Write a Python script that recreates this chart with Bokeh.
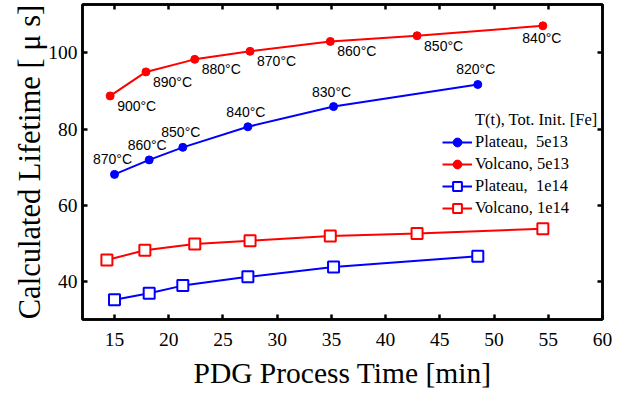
from bokeh.plotting import figure
from bokeh.models import Range1d, FixedTicker, LinearAxis, Legend, LegendItem
from bokeh.core.properties import value
from bokeh.embed import file_html
from bokeh.resources import INLINE

# ---- data ----
plateau_5e13_t = [15.0, 18.2, 21.3, 27.3, 35.2, 48.5]
plateau_5e13_tau = [68.1, 71.9, 75.2, 80.6, 85.9, 91.7]
plateau_5e13_temp = ["870°C", "860°C", "850°C", "840°C", "830°C", "820°C"]

volcano_5e13_t = [14.6, 17.9, 22.4, 27.5, 34.9, 42.9, 54.5]
volcano_5e13_tau = [88.7, 95.0, 98.3, 100.4, 103.0, 104.5, 107.1]
volcano_5e13_temp = ["900°C", "890°C", "880°C", "870°C", "860°C", "850°C", "840°C"]

plateau_1e14_t = [15.0, 18.2, 21.3, 27.3, 35.2, 48.5]
plateau_1e14_tau = [35.2, 36.9, 38.9, 41.2, 43.8, 46.6]

volcano_1e14_t = [14.3, 17.8, 22.4, 27.5, 34.9, 42.9, 54.5]
volcano_1e14_tau = [45.6, 48.2, 49.8, 50.7, 51.9, 52.6, 53.8]

x_ticks = [15, 20, 25, 30, 35, 40, 45, 50, 55, 60]
y_ticks = [40, 60, 80, 100]

legend_title = "T(t), Tot. Init. [Fe]"
legend_labels = ["Plateau,  5e13", "Volcano, 5e13", "Plateau,  1e14", "Volcano, 1e14"]

BLUE = "#0000ff"
RED = "#ff0000"
SERIF = "Liberation Serif"
SANS = "Liberation Sans"

p = figure(width=619, height=396, output_backend="svg", toolbar_location=None,
           x_range=Range1d(12.05, 60), y_range=Range1d(30, 112.7),
           min_border_left=82, min_border_right=17, min_border_top=4, min_border_bottom=77)
p.grid.visible = False
p.outline_line_color = "black"
p.outline_line_width = 2.5
p.background_fill_color = "white"
p.border_fill_color = "white"


def style_axis(ax, ticks, labels=True):
    ax.ticker = FixedTicker(ticks=ticks)
    ax.axis_line_width = 2.5
    ax.axis_line_color = "black"
    ax.major_tick_in = 5
    ax.major_tick_out = 0
    ax.major_tick_line_width = 2.5
    ax.minor_tick_line_color = None
    if labels:
        ax.major_label_text_font = SERIF
        ax.major_label_text_font_size = "19.5px"
        ax.major_label_text_color = "black"
        ax.axis_label_text_font = SERIF
        ax.axis_label_text_font_style = "normal"
        ax.axis_label_text_color = "black"
    else:
        ax.major_label_overrides = {t: "" for t in ticks}
        ax.major_label_text_font_size = "1px"
        ax.major_label_standoff = 0


style_axis(p.xaxis[0], x_ticks)
style_axis(p.yaxis[0], y_ticks)
p.xaxis.axis_label = "PDG Process Time [min]"
p.yaxis.axis_label = "Calculated Lifetime [ μ s]"
p.xaxis.axis_label_text_font_size = "29.5px"
p.yaxis.axis_label_text_font_size = "30.5px"
p.xaxis.major_label_standoff = 13
p.xaxis.axis_label_standoff = 8
p.yaxis.major_label_standoff = 5
p.yaxis.axis_label_standoff = -2

top_ax = LinearAxis()
right_ax = LinearAxis()
style_axis(top_ax, x_ticks, labels=False)
style_axis(right_ax, y_ticks, labels=False)
p.add_layout(top_ax, "above")
p.add_layout(right_ax, "right")

# ---- series ----
l1 = p.line(plateau_5e13_t, plateau_5e13_tau, line_color=BLUE, line_width=2)
s1 = p.scatter(plateau_5e13_t, plateau_5e13_tau, marker="circle", size=8, color=BLUE)
l2 = p.line(volcano_5e13_t, volcano_5e13_tau, line_color=RED, line_width=2)
s2 = p.scatter(volcano_5e13_t, volcano_5e13_tau, marker="circle", size=8, color=RED)
l3 = p.line(plateau_1e14_t, plateau_1e14_tau, line_color=BLUE, line_width=2)
s3 = p.scatter(plateau_1e14_t, plateau_1e14_tau, marker="square", size=11,
               line_color=BLUE, line_width=2, fill_color="white")
l4 = p.line(volcano_1e14_t, volcano_1e14_tau, line_color=RED, line_width=2)
s4 = p.scatter(volcano_1e14_t, volcano_1e14_tau, marker="square", size=11,
               line_color=RED, line_width=2, fill_color="white")

# ---- temperature annotations ----
p.text(plateau_5e13_t, plateau_5e13_tau, text=plateau_5e13_temp,
       text_font=value(SANS), text_font_size="14px", text_color="black",
       text_align="center", text_baseline="middle", x_offset=-2, y_offset=-15)
p.text(volcano_5e13_t[:-1], volcano_5e13_tau[:-1], text=volcano_5e13_temp[:-1],
       text_font=value(SANS), text_font_size="14px", text_color="black",
       text_align="left", text_baseline="middle", x_offset=7, y_offset=10)
p.text(volcano_5e13_t[-1:], volcano_5e13_tau[-1:], text=volcano_5e13_temp[-1:],
       text_font=value(SANS), text_font_size="14px", text_color="black",
       text_align="center", text_baseline="middle", x_offset=-1, y_offset=12)

# ---- legend ----
dummy = p.scatter(x=[], y=[], marker="circle", size=1.5, color="#999999")
legend = Legend(items=[
    LegendItem(label=legend_title, renderers=[dummy]),
    LegendItem(label=legend_labels[0], renderers=[l1, s1]),
    LegendItem(label=legend_labels[1], renderers=[l2, s2]),
    LegendItem(label=legend_labels[2], renderers=[l3, s3]),
    LegendItem(label=legend_labels[3], renderers=[l4, s4]),
], location=(360, 100))
legend.padding = 0
legend.margin = 0
legend.spacing = 0
legend.label_height = 22
legend.glyph_height = 22
legend.glyph_width = 30
legend.label_standoff = 3
legend.label_text_font = SERIF
legend.label_text_font_size = "16.5px"
legend.label_text_color = "black"
legend.background_fill_alpha = 0
legend.border_line_alpha = 0
p.add_layout(legend)

open("out.html", "w").write(file_html(p, INLINE))
